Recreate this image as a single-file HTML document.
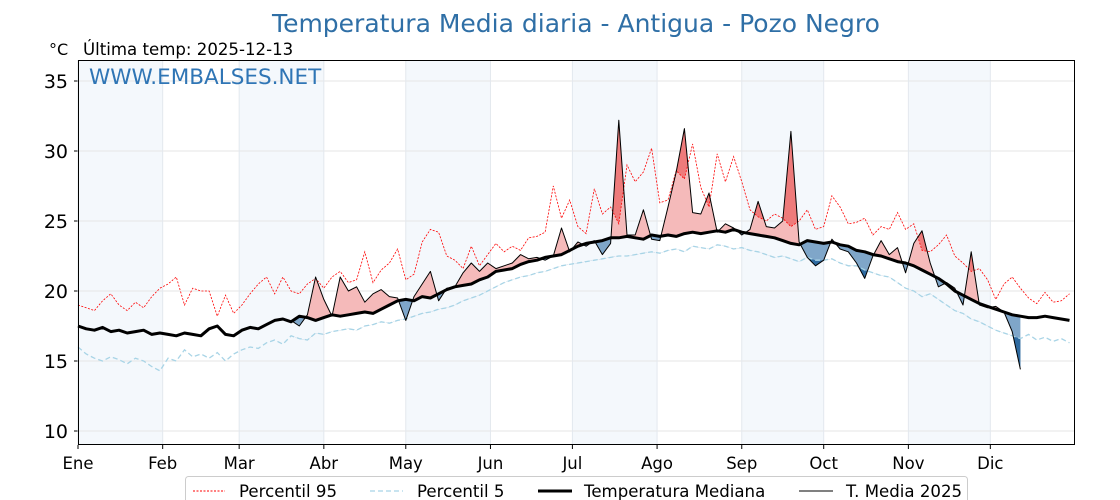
<!DOCTYPE html>
<html><head><meta charset="utf-8"><style>
body{margin:0;background:#fff;}
svg{display:block;font-family:"DejaVu Sans","Liberation Sans",sans-serif;}
</style></head><body>
<svg id="chart" width="1120" height="500" viewBox="0 0 1120 500">
<text x="576" y="32" text-anchor="middle" font-size="25" fill="#2f6fa6">Temperatura Media diaria - Antigua - Pozo Negro</text>
<text x="49" y="55" font-size="16" fill="#000">°C</text>
<text x="83" y="55" font-size="16.6" fill="#000">Última temp: 2025-12-13</text>
<g id="plot"></g>
<text x="89" y="84" font-size="21.5" fill="#2f75b5">WWW.EMBALSES.NET</text>
<g>
<rect x="185.5" y="476.5" width="782" height="30" rx="3" fill="#fff" stroke="#ccc"/>
<line x1="193" y1="491" x2="225" y2="491" stroke="#f00" stroke-width="1" stroke-dasharray="2,1.5"/>
<text x="239" y="497" font-size="16.6">Percentil 95</text>
<line x1="370" y1="491" x2="403" y2="491" stroke="#a8d4e6" stroke-width="1.3" stroke-dasharray="5,3"/>
<text x="417" y="497" font-size="16.6">Percentil 5</text>
<line x1="538" y1="491" x2="572" y2="491" stroke="#000" stroke-width="3"/>
<text x="584" y="497" font-size="16.6">Temperatura Mediana</text>
<line x1="799" y1="491" x2="833" y2="491" stroke="#000" stroke-width="1"/>
<text x="846" y="497" font-size="16.6">T. Media 2025</text>
</g>
</svg>
<script>
const step = 3;
const monthLabels = ["Ene","Feb","Mar","Abr","May","Jun","Jul","Ago","Sep","Oct","Nov","Dic"];
const monthStarts = [0,31,59,90,120,151,181,212,243,273,304,334];
const yTicks = [10,15,20,25,30,35];
const medianVals = [17.5,17.3,17.2,17.4,17.1,17.2,17.0,17.1,17.2,16.9,17.0,
16.9,16.8,17.0,16.9,16.8,17.3,17.5,16.9,16.8,
17.2,17.4,17.3,17.6,17.9,18.0,17.8,18.2,18.1,17.9,18.1,
18.3,18.2,18.3,18.4,18.5,18.4,18.7,19.0,19.3,
19.4,19.3,19.6,19.5,19.8,20.1,20.3,20.4,20.5,20.8,21.0,
21.4,21.5,21.6,21.9,22.1,22.2,22.4,22.5,22.6,22.9,
23.2,23.4,23.5,23.6,23.8,23.8,23.9,23.8,23.7,24.0,
23.9,24.0,23.9,24.1,24.2,24.1,24.2,24.3,24.2,24.4,24.2,
24.1,24.0,23.9,23.8,23.6,23.4,23.3,23.6,23.5,
23.4,23.5,23.3,23.2,22.9,22.8,22.6,22.5,22.3,22.1,22.0,
21.8,21.5,21.2,20.9,20.5,20.0,19.7,19.4,19.1,
18.9,18.7,18.5,18.3,18.2,18.1,18.1,18.2,18.1,18.0,17.9];
const p95Vals = [19.0,18.8,18.6,19.3,19.8,19.0,18.6,19.2,18.8,19.6,20.2,
20.5,21.0,19.0,20.2,20.0,20.0,18.2,19.7,18.4,
19.0,19.8,20.5,21.0,19.8,21.0,20.0,19.8,20.5,20.9,20.2,
21.0,21.4,20.6,20.8,22.8,20.6,21.5,22.0,23.0,
20.8,21.2,23.5,24.4,24.2,22.5,22.2,21.6,23.2,21.8,22.6,
23.4,22.8,23.2,22.9,23.8,23.9,24.2,27.5,25.2,26.5,
24.6,24.1,27.3,25.5,26.0,24.8,29.0,27.8,28.5,30.2,
26.3,26.5,28.6,28.0,30.5,27.4,26.0,29.8,27.8,29.6,27.8,
25.8,25.3,25.0,25.5,25.2,24.6,25.0,25.8,24.4,
24.6,26.8,26.0,24.8,24.9,25.2,24.0,24.6,24.4,25.6,24.4,
24.8,22.9,22.8,23.3,24.0,22.5,22.0,21.4,21.6,
20.8,19.4,20.5,21.0,20.2,19.5,19.1,19.9,19.2,19.3,19.8];
const p5Vals = [16.0,15.5,15.2,15.0,15.3,15.1,14.8,15.2,15.0,14.6,14.3,
15.2,15.0,15.8,15.3,15.5,15.2,15.6,15.0,15.5,
15.8,16.0,15.9,16.3,16.5,16.2,16.8,16.6,16.5,17.0,16.9,
17.1,17.2,17.3,17.2,17.5,17.6,17.8,17.7,17.9,
18.0,18.2,18.4,18.5,18.7,18.8,19.0,19.3,19.5,19.7,20.0,
20.3,20.6,20.8,21.0,21.1,21.3,21.4,21.6,21.8,21.9,
22.0,22.1,22.2,22.3,22.4,22.5,22.5,22.6,22.7,22.8,
22.7,22.9,23.0,22.8,23.2,23.1,23.0,23.3,23.2,23.0,23.1,
22.9,22.8,22.6,22.4,22.5,22.3,22.1,22.4,22.2,
22.2,22.3,22.0,21.8,21.8,21.5,21.3,21.1,21.0,20.6,20.2,
20.0,19.6,19.8,19.4,19.0,18.6,18.4,18.0,17.8,
17.5,17.2,17.0,16.8,16.6,16.9,16.5,16.7,16.4,16.6,16.3];
const t2025Start = 78;
const t2025Vals = [17.9,17.5,18.3,21.0,19.4,18.2,21.0,20.0,20.3,19.2,19.8,20.1,19.6,19.5,
17.9,19.6,20.5,21.4,19.3,20.2,20.3,21.3,22.0,21.4,22.0,
21.6,21.8,22.0,22.6,22.3,22.4,22.2,22.5,24.5,22.8,
23.5,23.2,23.6,22.6,23.4,32.2,24.0,24.0,25.8,23.7,
23.6,26.0,28.5,31.6,25.6,25.5,27.0,24.2,24.8,24.5,24.0,
24.4,26.4,24.6,24.5,25.0,31.4,23.5,22.4,21.8,
22.2,23.7,23.0,22.8,22.0,20.9,22.5,23.6,22.6,23.1,21.3,
23.4,24.3,22.0,20.3,20.6,20.2,19.0,22.8,19.0,
18.8,18.9,18.5,17.1,14.4];

const X0=78, X1=1075, Y0=60, Y1=445;
const xs = d => X0 + d*(X1-X0)/365;
const ys = v => 431 - (v-10)*14;
const NS="http://www.w3.org/2000/svg";
const plot=document.getElementById('plot');
function mk(tag, attrs, parent){const e=document.createElementNS(NS,tag);for(const k in attrs)e.setAttribute(k,attrs[k]);(parent||plot).appendChild(e);return e;}
const pts = (vals, start) => vals.map((v,i)=>[xs(start+i*step), ys(v)]);
const path = p => p.map((q,i)=>(i?'L':'M')+q[0].toFixed(1)+','+q[1].toFixed(1)).join('');

const defs = mk('defs',{});
monthStarts.forEach((m,i)=>{
  if(i%2===0){
    const end = i+1<12?monthStarts[i+1]:365;
    const r=mk('rect',{x:xs(m),y:Y0,width:xs(end)-xs(m),height:Y1-Y0,fill:'#f4f8fc'});
    
    
  }
});
yTicks.forEach(t=>{
  const l=mk('line',{x1:X0,x2:X1,y1:ys(t),y2:ys(t),stroke:'#e6e6e6','stroke-width':1});
  
  
  const tx=mk('text',{x:68,y:ys(t)+7,'text-anchor':'end','font-size':19});
  tx.textContent=t;
  
  
  mk('line',{x1:X0-4,x2:X0,y1:ys(t),y2:ys(t),stroke:'#000'});
});
monthStarts.forEach((m,i)=>{
  const l=mk('line',{x1:xs(m),x2:xs(m),y1:Y0,y2:Y1,stroke:'#e3e8ee','stroke-width':1});
  
  
  mk('line',{x1:xs(m),x2:xs(m),y1:Y1,y2:Y1+4,stroke:'#000'});
  const tx=mk('text',{x:xs(m),y:469,'text-anchor':'middle','font-size':16.5});
  tx.textContent=monthLabels[i];
  
  
});

const medP = pts(medianVals,0), p95P=pts(p95Vals,0), p5P=pts(p5Vals,0);
const tP = pts(t2025Vals,t2025Start);
const idx0 = t2025Start/step;
const sub = arr => arr.slice(idx0, idx0+t2025Vals.length);
function clip(id, linePts, above){
  const c=mk('clipPath',{id:id},defs);
  const edge = above?Y0-50:Y1+50;
  const p = linePts.concat([[linePts[linePts.length-1][0],edge],[linePts[0][0],edge]]);
  mk('path',{d:path(p)+'Z'},c);
}
clip('aboveMed',medP,true); clip('belowMed',medP,false);
clip('aboveP95',p95P,true); clip('belowP5',p5P,false);
function band(other, clipId, color, name){
  const d = path(tP.concat(other.slice().reverse()))+'Z';
  const e=mk('path',{d:d,fill:color,'clip-path':'url(#'+clipId+')',stroke:'none'});
  
  
}
band(sub(medP),'aboveMed','#f5baba','fill-above-median');
band(sub(medP),'belowMed','#7fa6c9','fill-below-median');
band(sub(p95P),'aboveP95','#ee7b7b','fill-above-p95');
band(sub(p5P),'belowP5','#2e6aa0','fill-below-p5');

let e;
e=mk('path',{d:path(p95P),fill:'none',stroke:'#f00','stroke-width':0.8,'stroke-dasharray':'2,1.5'});


e=mk('path',{d:path(p5P),fill:'none',stroke:'#a8d4e6','stroke-width':1.3,'stroke-dasharray':'5,3'});


e=mk('path',{d:path(medP),fill:'none',stroke:'#000','stroke-width':3,'stroke-linejoin':'round'});


e=mk('path',{d:path(tP),fill:'none',stroke:'#000','stroke-width':1,'stroke-linejoin':'round'});



e=mk('rect',{x:X0+0.5,y:Y0+0.5,width:X1-X0-1,height:Y1-Y0-1,fill:'none',stroke:'#000','stroke-width':1});


</script>
</body></html>
